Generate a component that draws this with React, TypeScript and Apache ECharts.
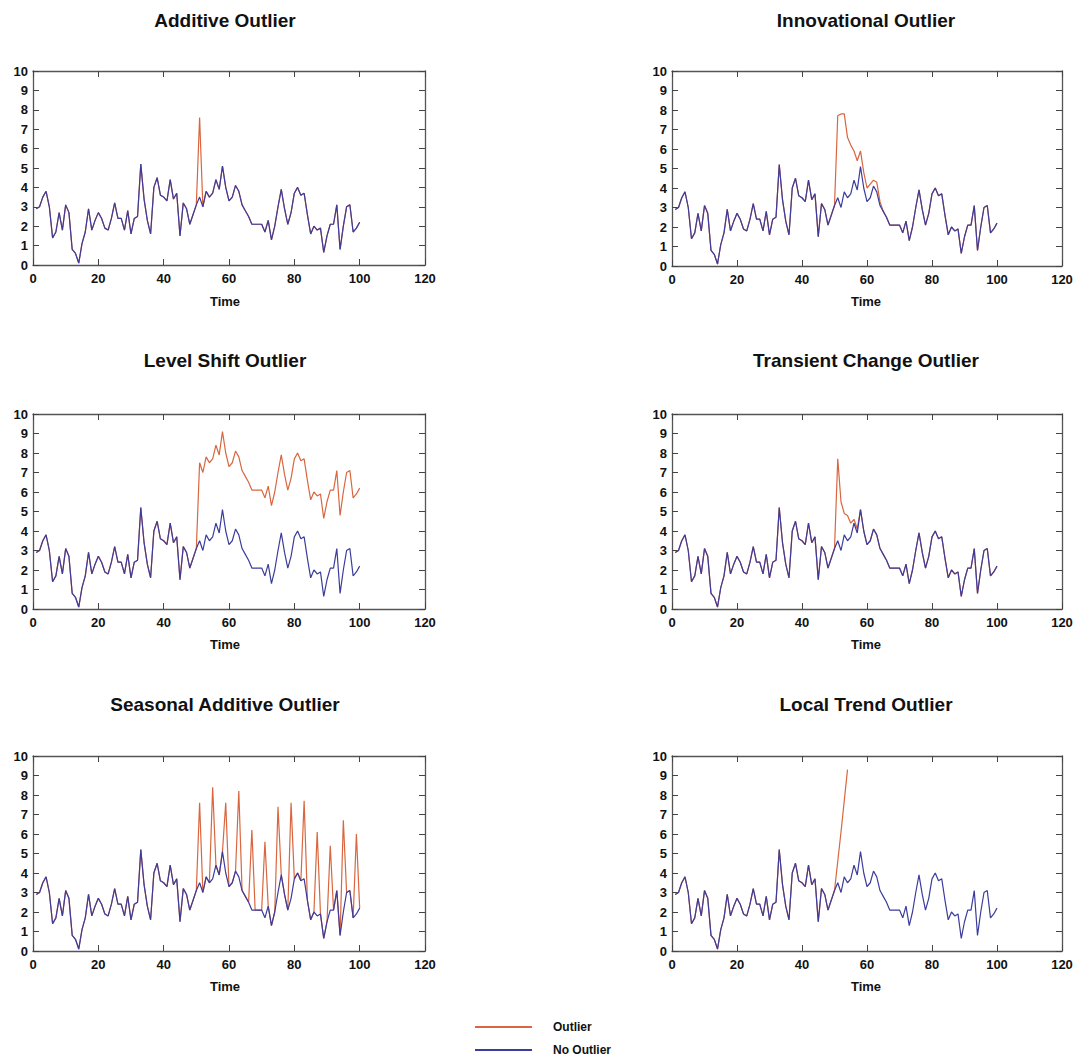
import React, { useEffect, useRef } from "react";
import * as echarts from "echarts";

// Base series ("No Outlier"), t = 1..100
const baseSeries = [
  2.9, 3.0, 3.5, 3.8, 3.0, 1.4, 1.7, 2.7, 1.8, 3.1,
  2.7, 0.8, 0.6, 0.1, 1.1, 1.7, 2.9, 1.8, 2.3, 2.7,
  2.4, 1.9, 1.8, 2.4, 3.2, 2.4, 2.4, 1.8, 2.8, 1.6,
  2.4, 2.5, 5.2, 3.4, 2.3, 1.6, 4.0, 4.5, 3.6, 3.5,
  3.3, 4.4, 3.4, 3.7, 1.5, 3.2, 2.9, 2.1, 2.6, 3.1,
  3.5, 3.0, 3.8, 3.5, 3.7, 4.4, 3.9, 5.1, 4.0, 3.3,
  3.5, 4.1, 3.8, 3.1, 2.8, 2.5, 2.1, 2.1, 2.1, 2.1,
  1.7, 2.3, 1.3, 2.0, 3.0, 3.9, 2.9, 2.1, 2.7, 3.7,
  4.0, 3.6, 3.7, 2.6, 1.6, 2.0, 1.8, 1.9, 0.65, 1.5,
  2.1, 2.1, 3.1, 0.8, 2.0, 3.0, 3.1, 1.7, 1.9, 2.2,
];

// Outlier series: [time, value] points that differ from the base series
const additiveOutlier = [[51, 7.6]];
const innovationalOutlier = [
  [51, 7.7], [52, 7.8], [53, 7.8], [54, 6.6], [55, 6.2], [56, 5.9], [57, 5.4],
  [58, 5.9], [59, 4.8], [60, 4.0], [61, 4.2], [62, 4.4], [63, 4.3], [64, 3.3],
];
const levelShiftValues = [
  7.5, 7.0, 7.8, 7.5, 7.7, 8.4, 7.9, 9.1, 8.0, 7.3,
  7.5, 8.1, 7.8, 7.1, 6.8, 6.5, 6.1, 6.1, 6.1, 6.1,
  5.7, 6.3, 5.3, 6.0, 7.0, 7.9, 6.9, 6.1, 6.7, 7.7,
  8.0, 7.6, 7.7, 6.6, 5.6, 6.0, 5.8, 5.9, 4.65, 5.5,
  6.1, 6.1, 7.1, 4.8, 6.0, 7.0, 7.1, 5.7, 5.9, 6.2,
];
const levelShiftStart = 51;
const transientOutlier = [
  [51, 7.7], [52, 5.5], [53, 4.9], [54, 4.8], [55, 4.4], [56, 4.6], [57, 4.1],
];
const seasonalOutlier = [
  [51, 7.6], [55, 8.4], [59, 7.6], [63, 8.2], [67, 6.2], [71, 5.6], [75, 7.4],
  [79, 7.6], [83, 7.7], [87, 6.1], [91, 5.4], [95, 6.7], [99, 6.0],
];
const localTrendOutlier = [[51, 4.6], [52, 6.1], [53, 7.7], [54, 9.3]];
const localTrendEnd = 54;

const panelTitles = [
  "Additive Outlier",
  "Innovational Outlier",
  "Level Shift Outlier",
  "Transient Change Outlier",
  "Seasonal Additive Outlier",
  "Local Trend Outlier",
];
const xTicks = [0, 20, 40, 60, 80, 100, 120];
const yTicks = [0, 1, 2, 3, 4, 5, 6, 7, 8, 9, 10];

const RED = "#d9663f";
const BLUE = "#3b3c9c";
const FONT = "Liberation Sans";

function withOverrides(overrides: number[][], end?: number) {
  const map = new Map<number, number>();
  overrides.forEach(([t, v]) => map.set(t, v));
  const out: number[][] = [];
  baseSeries.forEach((v, i) => {
    const t = i + 1;
    if (end !== undefined && t > end) return;
    out.push([t, map.has(t) ? (map.get(t) as number) : v]);
  });
  return out;
}

export default function App() {
  const ref = useRef<HTMLDivElement>(null);
  useEffect(() => {
    if (!ref.current) return;
    const chart = echarts.init(ref.current, undefined, { renderer: "svg" });

    const grids = [
      { left: 33, top: 71, width: 392, height: 194 },
      { left: 672, top: 71, width: 390, height: 195 },
      { left: 33, top: 414, width: 392, height: 195 },
      { left: 672, top: 414, width: 390, height: 195 },
      { left: 33, top: 756, width: 392, height: 195 },
      { left: 672, top: 756, width: 390, height: 195 },
    ];
    const titleX = [225, 866, 225, 866, 225, 866];
    const titleY = [20, 20, 360, 360, 704, 704];
    const timeY = [301, 301, 644, 644, 986, 986];

    const levelShiftOverrides = levelShiftValues.map((v, i) => [levelShiftStart + i, v]);
    const outlierData = [
      withOverrides(additiveOutlier),
      withOverrides(innovationalOutlier),
      withOverrides(levelShiftOverrides),
      withOverrides(transientOutlier),
      withOverrides(seasonalOutlier),
      withOverrides(localTrendOutlier, localTrendEnd),
    ];
    const noOutlierData = baseSeries.map((v, i) => [i + 1, v]);

    const axisLine = { show: true, onZero: false, lineStyle: { color: "#555", width: 1.3 } };
    const tick = { show: true, inside: true, length: 6, lineStyle: { color: "#444", width: 1 } };
    const labelStyle = { fontFamily: FONT, fontWeight: "bold" as const, fontSize: 13, color: "#111" };

    const xAxis: any[] = [];
    const yAxis: any[] = [];
    const series: any[] = [];
    const graphic: any[] = [];

    grids.forEach((_, i) => {
      xAxis.push({
        type: "value", gridIndex: i, min: xTicks[0], max: xTicks[xTicks.length - 1], interval: 20,
        position: "bottom", axisLine, axisTick: tick, splitLine: { show: false },
        axisLabel: { ...labelStyle, margin: 7 },
      });
      xAxis.push({
        type: "value", gridIndex: i, min: xTicks[0], max: xTicks[xTicks.length - 1], interval: 20,
        position: "top", axisLine, axisTick: tick, splitLine: { show: false },
        axisLabel: { show: false },
      });
      yAxis.push({
        type: "value", gridIndex: i, min: yTicks[0], max: yTicks[yTicks.length - 1], interval: 1,
        position: "left", axisLine, axisTick: tick, splitLine: { show: false },
        axisLabel: { ...labelStyle, margin: 5 },
      });
      yAxis.push({
        type: "value", gridIndex: i, min: yTicks[0], max: yTicks[yTicks.length - 1], interval: 1,
        position: "right", axisLine, axisTick: tick, splitLine: { show: false },
        axisLabel: { show: false },
      });
      series.push({
        name: "Outlier", type: "line", xAxisIndex: 2 * i, yAxisIndex: 2 * i,
        data: outlierData[i], showSymbol: false, symbol: "none", z: 2,
        lineStyle: { color: RED, width: 1.2 }, itemStyle: { color: RED },
      });
      series.push({
        name: "No Outlier", type: "line", xAxisIndex: 2 * i, yAxisIndex: 2 * i,
        data: noOutlierData, showSymbol: false, symbol: "none", z: 3,
        lineStyle: { color: BLUE, width: 1.2 }, itemStyle: { color: BLUE },
      });
      graphic.push({
        type: "text", x: titleX[i], y: titleY[i],
        style: {
          text: panelTitles[i], textAlign: "center", textVerticalAlign: "middle",
          fontFamily: FONT, fontWeight: "bold", fontSize: 19, fill: "#111",
        },
      });
      graphic.push({
        type: "text", x: titleX[i], y: timeY[i],
        style: {
          text: "Time", textAlign: "center", textVerticalAlign: "middle",
          fontFamily: FONT, fontWeight: "bold", fontSize: 13, fill: "#111",
        },
      });
    });

    const legendBase = {
      orient: "vertical",
      left: 470,
      itemWidth: 57,
      itemHeight: 2,
      icon: "rect",
      textStyle: { fontFamily: FONT, fontWeight: "bold", fontSize: 12, color: "#111", padding: [0, 0, 0, 16] },
    };

    chart.setOption({
      animation: false,
      backgroundColor: "#ffffff",
      grid: grids,
      xAxis,
      yAxis,
      series,
      graphic,
      legend: [
        { ...legendBase, data: ["Outlier"], top: 1016 },
        { ...legendBase, data: ["No Outlier"], top: 1039 },
      ],
    });
    return () => chart.dispose();
  }, []);
  return (
    <div
      ref={ref}
      style={{ position: "absolute", left: 0, top: 0, width: 1079, height: 1057, background: "#fff" }}
    />
  );
}
